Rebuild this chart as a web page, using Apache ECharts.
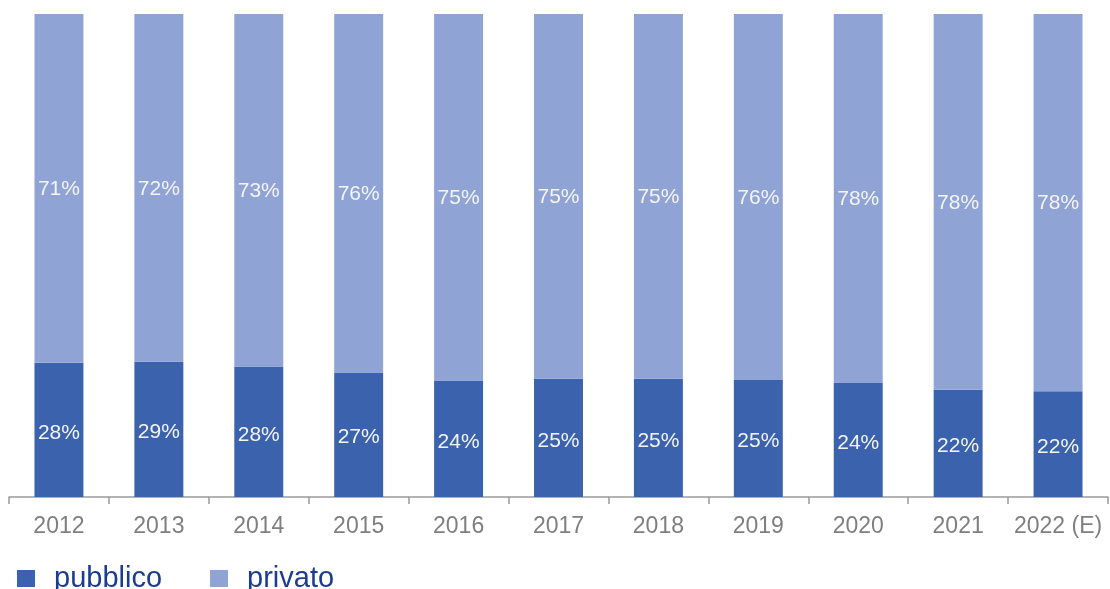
<!DOCTYPE html>
<html>
<head>
<meta charset="utf-8">
<script src="https://cdn.jsdelivr.net/npm/echarts@6/dist/echarts.min.js"></script>
<style>
html,body{margin:0;padding:0;background:#fff;}
#chart{width:1110px;height:589px;}
</style>
</head>
<body>
<div id="chart"></div>
<script>
// Data
const categories = ['2012','2013','2014','2015','2016','2017','2018','2019','2020','2021','2022 (E)'];
// bar heights (share of total, %)
const pubblicoShare = [27.8, 28.0, 27.0, 25.8, 24.1, 24.5, 24.5, 24.2, 23.6, 22.2, 21.9];
const privatoShare  = [72.2, 72.0, 73.0, 74.2, 75.9, 75.5, 75.5, 75.8, 76.4, 77.8, 78.1];
// printed labels
const pubblicoLabels = [28, 29, 28, 27, 24, 25, 25, 25, 24, 22, 22];
const privatoLabels  = [71, 72, 73, 76, 75, 75, 75, 76, 78, 78, 78];

const chart = echarts.init(document.getElementById('chart'));
const font = '"Liberation Sans", Arial, sans-serif';
chart.setOption({
  animation: false,
  grid: {left: 9, right: 2, top: 14, bottom: 92, containLabel: false},
  legend: {
    left: 12, top: 564, padding: [0, 5, 0, 5],
    itemWidth: 18, itemHeight: 17, itemGap: 48,
    icon: 'rect',
    textStyle: {fontFamily: font, fontSize: 29, color: '#1b3c91', padding: [0, 0, 0, 14]},
    data: ['pubblico', 'privato']
  },
  xAxis: {
    type: 'category',
    data: categories,
    boundaryGap: true,
    axisLine: {lineStyle: {color: '#9a9a9a', width: 1.5}},
    axisTick: {show: true, length: 7, lineStyle: {color: '#9a9a9a', width: 1.5}},
    axisLabel: {fontFamily: font, fontSize: 23, color: '#7f7f7f', margin: 18, interval: 0}
  },
  yAxis: {
    type: 'value', min: 0, max: 100, show: false
  },
  series: [
    {
      name: 'pubblico', type: 'bar', stack: 'tot', barWidth: '49%',
      data: pubblicoShare,
      itemStyle: {color: '#3a62ad'},
      label: {show: true, position: 'inside', offset: [0, 3], fontFamily: font, fontSize: 21, color: '#f4f4f4',
        formatter: p => pubblicoLabels[p.dataIndex] + '%'}
    },
    {
      name: 'privato', type: 'bar', stack: 'tot', barWidth: '49%',
      data: privatoShare,
      itemStyle: {color: '#8fa3d4'},
      label: {show: true, position: 'inside', offset: [0, 1], fontFamily: font, fontSize: 21, color: '#f4f4f4',
        formatter: p => privatoLabels[p.dataIndex] + '%'}
    }
  ]
});
</script>
</body>
</html>
